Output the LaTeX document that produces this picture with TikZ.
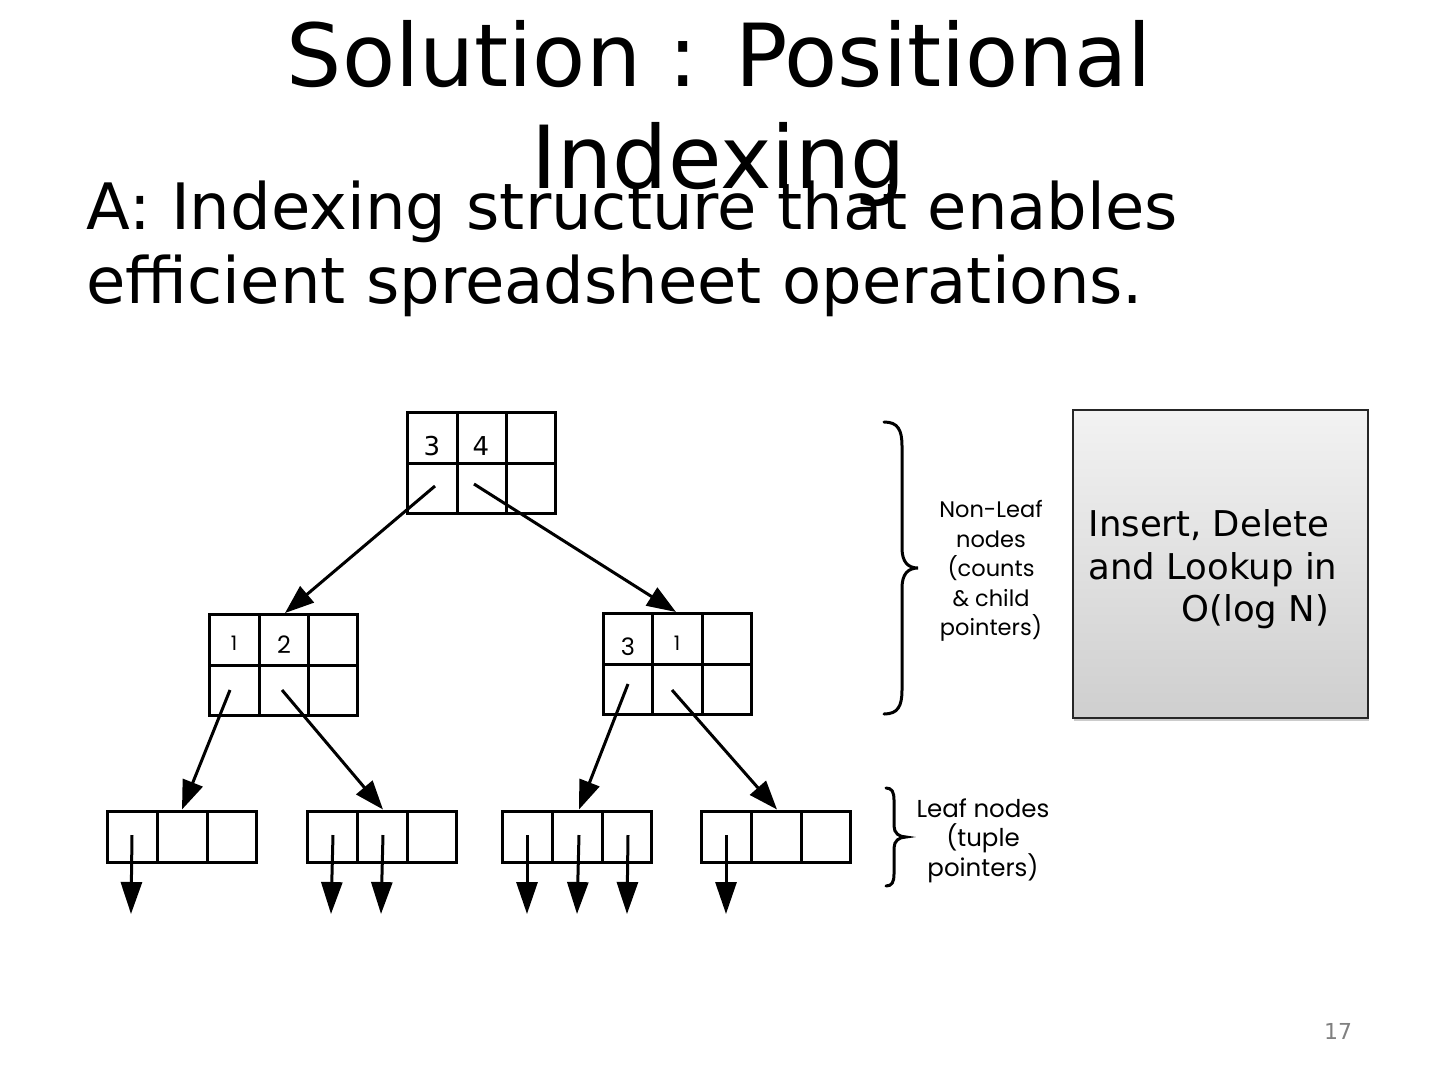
\documentclass[tikz,border=0pt]{standalone}
\usepackage{fontspec}
\setmainfont{DejaVu Sans}
\newfontfamily\lblfont{Poppins}
\usetikzlibrary{arrows.meta,shadows}
\begin{document}
\begin{tikzpicture}[x=1pt,y=-1pt,
  cellbox/.style={draw,line width=3pt,minimum width=148pt,minimum height=101pt,inner sep=0pt},
  leafbox/.style={draw,line width=3pt,minimum width=149pt,minimum height=51pt,inner sep=0pt},
  ptr/.style={line width=3pt,-{Triangle[length=29pt,width=21pt]}},
  num/.style={font=\lblfont\fontsize{24}{24}\selectfont,anchor=center},
  lbl/.style={font=\lblfont\fontsize{22.5}{29.5}\selectfont,align=center},
  brace/.style={line width=3pt,line cap=round}
]
\useasboundingbox (0,0) rectangle (1440,1080);
% title
\node[anchor=base,font=\fontsize{87}{87}\selectfont] (t1) at (719,86) {Solution : Positional};
\node[anchor=base,font=\fontsize{87}{87}\selectfont] (t2) at (719,188) {Indexing};
\node[anchor=base west,font=\fontsize{64}{64}\selectfont] (b1) at (83,229) {A: Indexing structure that enables};
\node[anchor=base west,font=\fontsize{64}{64}\selectfont] (b2) at (83,303) {efficient spreadsheet operations.};
% root
\node[cellbox] (root) at (481,463) {};
\draw[line width=3pt] (407,463) -- (555,463) (457,412) -- (457,514) (506,412) -- (506,514);
\node[num,font=\fontsize{26}{26}\selectfont] (r3) at (432,446) {3};
\node[num,font=\fontsize{26}{26}\selectfont] (r4) at (481,446) {4};
% mid left
\node[cellbox] (ml) at (283,665) {};
\draw[line width=3pt] (208,665) -- (358,665) (259,614) -- (259,716) (308,614) -- (308,716);
\node[num] (ml1) at (234,643) {\fontsize{20}{20}\selectfont 1};
\node[num] (ml2) at (284,645) {2};
% mid right
\node[cellbox] (mr) at (677,664) {};
\draw[line width=3pt] (602,664) -- (752,664) (652,614) -- (652,714) (702,614) -- (702,714);
\node[num] (mr3) at (628,647) {3};
\node[num] (mr1) at (677,643) {\fontsize{20}{20}\selectfont 1};
% leaves
\node[leafbox] (l1) at (181.5,836.5) {};
\draw[line width=3pt] (157,811) -- (157,862) (207,811) -- (207,862);
\node[leafbox] (l2) at (382,836.5) {};
\draw[line width=3pt] (357,811) -- (357,862) (407,811) -- (407,862);
\node[leafbox] (l3) at (576.5,836.5) {};
\draw[line width=3pt] (552,811) -- (552,862) (602,811) -- (602,862);
\node[leafbox] (l4) at (776,836.5) {};
\draw[line width=3pt] (751,811) -- (751,862) (801,811) -- (801,862);
% child pointers
\coordinate (ra) at (435,486); \coordinate (rb) at (474,484);
\coordinate (mla) at (230,690); \coordinate (mlb) at (282,690);
\coordinate (mra) at (628,684); \coordinate (mrb) at (672,690);
\draw[ptr] (ra) -- (ml.north -| 285,0);
\draw[ptr] (rb) -- (mr.north -| 676,0);
\draw[ptr] (mla) -- (l1.north -| 182,0);
\draw[ptr] (mlb) -- (l2.north -| 383,0);
\draw[ptr] (mra) -- (l3.north -| 579,0);
\draw[ptr] (mrb) -- (l4.north -| 777,0);
% tuple pointers
\foreach \n/\xs/\xe in {a/132/131,b/333/331,c/383/381,d/527/527,e/579/577,f/628/627,g/726/726}{
  \coordinate (s\n) at (\xs,835);
  \coordinate (e\n) at (\xe,914);
  \draw[line width=3pt,-{Triangle[length=32pt,width=21pt]}] (s\n) -- (e\n);
}
% braces
\draw[brace] (884,422) .. controls (898,422) and (902,430) .. (902,446) -- (902,548)
  .. controls (902,562) and (908,568) .. (918,568)
  .. controls (908,568) and (902,574) .. (902,588) -- (902,690)
  .. controls (902,706) and (898,714) .. (884,714);
\draw[brace] (886,788) .. controls (892,788) and (894,792) .. (894,800) -- (894,826)
  .. controls (894,833) and (899,837) .. (906,837)
  .. controls (899,837) and (894,841) .. (894,848) -- (894,874)
  .. controls (894,882) and (892,886) .. (886,886);
\node[lbl,anchor=north] (nl) at (991,497) {Non-Leaf\\nodes\\(counts\\\&{} child\\pointers)};
\node[lbl,anchor=north,font=\lblfont\fontsize{24.5}{29.5}\selectfont] (lf) at (983,795) {Leaf nodes\\(tuple\\pointers)};
% grey box
\shade[top color=gray!10,bottom color=gray!38,drop shadow={shadow xshift=1pt,shadow yshift=-3pt,opacity=0.4}] (1073,410) rectangle (1368,718);
\node[draw=black!85,line width=1.2pt,minimum width=295pt,minimum height=308pt,inner sep=0pt] (op) at (1220.5,564) {};
\node[anchor=base west,font=\fontsize{35.5}{35.5}\selectfont] (o1) at (1085,536) {Insert, Delete};
\node[anchor=base west,font=\fontsize{35.5}{35.5}\selectfont] (o2) at (1085,579) {and Lookup in};
\node[anchor=base west,font=\fontsize{35.5}{35.5}\selectfont] (o3) at (1178,621) {O(log N)};
% page number
\node[anchor=base,font=\fontsize{22}{22}\selectfont,text=gray] (pg) at (1338,1039) {17};
\end{tikzpicture}
\end{document}
